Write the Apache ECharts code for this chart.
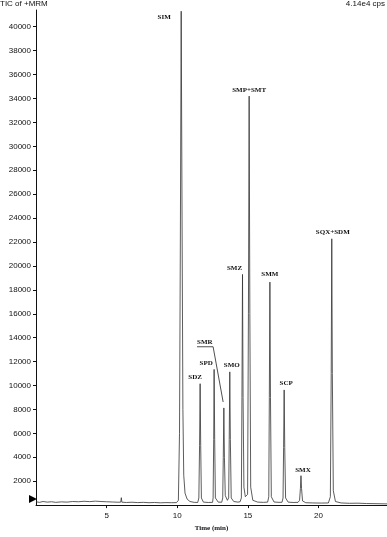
<!DOCTYPE html>
<html>
<head>
<meta charset="utf-8">
<script src="https://cdn.jsdelivr.net/npm/echarts@6/dist/echarts.min.js"></script>
<style>
  html, body { margin: 0; padding: 0; background: #fff; }
  #main { width: 387px; height: 537px; }
</style>
</head>
<body>
<div id="main"></div>
<script>
// chromatogram trace (time in min, intensity in cps)
var traceTime = [
  0.00, 0.25, 0.50, 0.80, 1.10, 1.40, 1.80, 2.20, 2.60, 3.00, 3.40, 3.80, 4.20, 4.60, 5.00, 5.40, 5.80, 6.00, 6.04, 6.08,
  6.40, 6.80, 7.20, 7.60, 8.00, 8.40, 8.80, 9.20, 9.60, 9.95,
  10.08, 10.16, 10.22, 10.28, 10.34, 10.40, 10.46, 10.55, 10.70, 10.90, 11.20, 11.45,
  11.53, 11.58, 11.62, 11.66, 11.71, 11.85, 12.20, 12.50,
  12.54, 12.58, 12.61, 12.65, 12.70, 12.90, 13.15,
  13.22, 13.26, 13.30, 13.34, 13.40, 13.55,
  13.64, 13.68, 13.72, 13.76, 13.82, 14.00, 14.30, 14.45,
  14.54, 14.58, 14.62, 14.66, 14.72, 14.82,
  14.98, 15.04, 15.09, 15.14, 15.20, 15.35, 15.70, 16.10, 16.40,
  16.48, 16.52, 16.56, 16.60, 16.66, 16.85, 17.20, 17.42,
  17.49, 17.53, 17.57, 17.61, 17.67, 17.85, 18.20, 18.55,
  18.66, 18.72, 18.76, 18.80, 18.87, 19.10, 19.60, 20.20, 20.70,
  20.84, 20.90, 20.94, 20.98, 21.05, 21.20, 21.60, 22.20, 22.80, 23.40, 24.00, 24.85
];
var traceSignal = [
  280, 230, 300, 250, 280, 230, 270, 250, 300, 280, 320, 290, 330, 300, 280, 260, 240, 250, 620, 240,
  220, 240, 210, 230, 200, 220, 190, 210, 200, 210,
  400, 6000, 22000, 41300, 24000, 8000, 2500, 1000, 500, 300, 230, 220,
  600, 5000, 10150, 5000, 600, 250, 220, 230,
  600, 5500, 11350, 5500, 600, 250, 240,
  600, 4000, 8125, 4000, 800, 400,
  600, 5500, 11140, 5500, 600, 300, 250, 280,
  600, 9000, 19290, 9000, 1500, 700,
  900, 16000, 34200, 16000, 1500, 400, 250, 230, 250,
  700, 9000, 18650, 9000, 700, 260, 230, 240,
  600, 4800, 9630, 4800, 600, 250, 220, 230,
  400, 1400, 2460, 1400, 350, 200, 180, 170, 180,
  700, 11000, 22270, 11000, 1200, 300, 180, 150, 160, 130, 120, 100
];

// peak annotations
var peakNames   = ['SIM', 'SDZ', 'SPD', 'SMR', 'SMO', 'SMZ', 'SMP+SMT', 'SMM', 'SCP', 'SMX', 'SQX+SDM'];
var peakTimes   = [10.28, 11.62, 12.61, 13.30, 13.72, 14.62, 15.09, 16.56, 17.57, 18.76, 20.94];
var peakHeights = [41300, 10150, 11350, 8125, 11140, 19290, 34200, 18650, 9630, 2460, 22270];

// axis ticks
var xTicks = [5, 10, 15, 20];
var yTicks = [2000, 4000, 6000, 8000, 10000, 12000, 14000, 16000, 18000, 20000,
  22000, 24000, 26000, 28000, 30000, 32000, 34000, 36000, 38000, 40000];

// leader line from the SMR label to its peak
var leaderTime = [11.40, 12.54, 13.25];
var leaderValue = [13240, 13240, 8620];

// label offsets in pixels from the peak apex
var labelOffsets = {
  'SIM': [-17, 6], 'SDZ': [-5, -7], 'SPD': [-8, -6], 'SMR': [-19, -66], 'SMO': [2, -7],
  'SMZ': [-8, -6], 'SMP+SMT': [0, -6], 'SMM': [0, -8], 'SCP': [2, -7], 'SMX': [2, -5],
  'SQX+SDM': [1, -7]
};

var myChart = echarts.init(document.getElementById('main'));

var trace = traceTime.map(function (t, i) { return [t, traceSignal[i]]; });
var leader = leaderTime.map(function (t, i) { return [t, leaderValue[i]]; });

var peakMarks = peakNames.map(function (n, i) {
  return {
    name: n,
    coord: [peakTimes[i], peakHeights[i]],
    label: { offset: labelOffsets[n] }
  };
});

var option = {
  animation: false,
  backgroundColor: '#fff',
  title: [
    { text: 'TIC of +MRM', left: 0, top: 0, padding: 0,
      textStyle: { fontSize: 8, fontWeight: 'normal', color: '#111', fontFamily: 'Liberation Sans' } },
    { text: '4.14e4 cps', right: 2, top: 0, padding: 0,
      textStyle: { fontSize: 8, fontWeight: 'normal', color: '#111', fontFamily: 'Liberation Sans' } }
  ],
  grid: { left: 36, right: 0, top: 10, bottom: 23 },
  xAxis: {
    type: 'value',
    min: 0,
    max: 24.85,
    name: 'Time (min)',
    nameLocation: 'middle',
    nameGap: 17,
    nameTextStyle: { fontFamily: 'Liberation Serif', fontWeight: 'bold', fontSize: 7, color: '#111' },
    splitLine: { show: false },
    axisLine: { lineStyle: { color: '#111', width: 1 } },
    axisTick: { customValues: xTicks, length: 3, lineStyle: { color: '#111' } },
    axisLabel: { customValues: xTicks, fontSize: 8, margin: 7, color: '#111', fontFamily: 'Liberation Sans' }
  },
  yAxis: {
    type: 'value',
    min: 0,
    max: 41400,
    splitLine: { show: false },
    axisLine: { show: true, lineStyle: { color: '#111', width: 1 } },
    axisTick: { show: true, customValues: yTicks, length: 3, lineStyle: { color: '#111' } },
    axisLabel: {
      customValues: yTicks, fontSize: 8, margin: 5, color: '#111', fontFamily: 'Liberation Sans',
      formatter: function (v) { return String(v); }
    }
  },
  series: [
    {
      name: 'TIC',
      type: 'line',
      data: trace,
      showSymbol: false,
      clip: false,
      lineStyle: { color: '#333', width: 0.8 },
      markPoint: {
        symbol: 'circle',
        symbolSize: 0,
        label: {
          show: true,
          position: 'inside',
          formatter: '{b}',
          fontFamily: 'Liberation Serif',
          fontWeight: 'bold',
          fontSize: 7,
          color: '#111'
        },
        data: peakMarks
      }
    },
    {
      name: 'leader',
      type: 'line',
      data: leader,
      showSymbol: false,
      lineStyle: { color: '#222', width: 0.8 }
    },
    {
      name: 'start',
      type: 'line',
      data: [],
      markPoint: {
        symbol: 'triangle',
        symbolSize: 8,
        symbolRotate: -90,
        symbolOffset: [-3, 0],
        itemStyle: { color: '#000' },
        label: { show: false },
        data: [{ coord: [0, 500] }]
      }
    }
  ]
};

myChart.setOption(option);
</script>
</body>
</html>
